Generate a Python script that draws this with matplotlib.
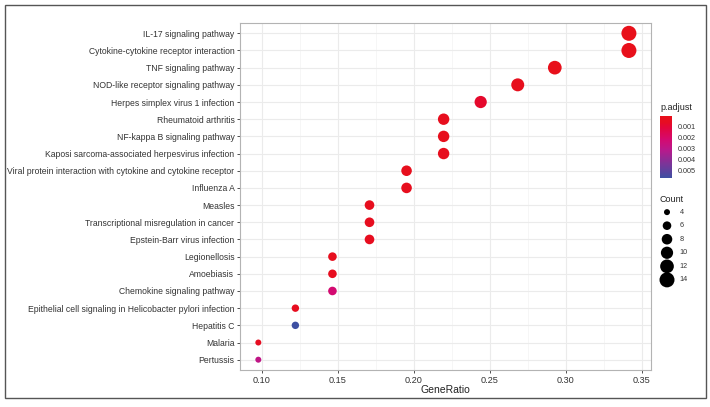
import matplotlib.pyplot as plt
import numpy as np
from matplotlib.colors import LinearSegmentedColormap
from matplotlib.patches import Rectangle

plt.rcParams['font.family'] = ['Liberation Sans', 'DejaVu Sans']

# KEGG enrichment results (top row first)
pathways = [
    "IL-17 signaling pathway",
    "Cytokine-cytokine receptor interaction",
    "TNF signaling pathway",
    "NOD-like receptor signaling pathway",
    "Herpes simplex virus 1 infection",
    "Rheumatoid arthritis",
    "NF-kappa B signaling pathway",
    "Kaposi sarcoma-associated herpesvirus infection",
    "Viral protein interaction with cytokine and cytokine receptor",
    "Influenza A",
    "Measles",
    "Transcriptional misregulation in cancer",
    "Epstein-Barr virus infection",
    "Legionellosis",
    "Amoebiasis",
    "Chemokine signaling pathway",
    "Epithelial cell signaling in Helicobacter pylori infection",
    "Hepatitis C",
    "Malaria",
    "Pertussis",
]
counts = [14, 14, 12, 11, 10, 9, 9, 9, 8, 8, 7, 7, 7, 6, 6, 6, 5, 5, 4, 4]
total = 41
p_adjust = [0.00002, 0.00005, 0.00008, 0.0002, 0.0008, 0.0003, 0.0002, 0.0003, 0.0002, 0.0003,
            0.0003, 0.0004, 0.0004, 0.0003, 0.0004, 0.0022, 0.0004, 0.0057, 0.0005, 0.0029]
legend_counts = [4, 6, 8, 10, 12, 14]
cbar_ticks = [0.001, 0.002, 0.003, 0.004, 0.005]

gene_ratio = np.array(counts) / total

cmap = LinearSegmentedColormap.from_list(
    "padj", [(0.0, "#E8101A"), (0.1, "#E60C22"), (0.18, "#E3063A"), (0.38, "#D40A70"),
             (0.55, "#B8198C"), (0.78, "#7A3599"), (1.0, "#3E50A2")])
vmin, vmax = 0.0, 0.0057


def dot_size(c):
    return np.maximum(9.8 * np.asarray(c) - 20.5, 4)


fig = plt.figure(figsize=(7.1, 4.07), dpi=100)
fig.patches.append(Rectangle((5 / 710, 9 / 407), 701 / 710, 393 / 407, transform=fig.transFigure,
                             fill=False, edgecolor="#555555", linewidth=1.0))

ax = fig.add_axes([240 / 710, 37 / 407, 411 / 710, 347 / 407])
y = np.arange(len(pathways))
sc = ax.scatter(gene_ratio, y, s=dot_size(counts), c=p_adjust, cmap=cmap, vmin=vmin, vmax=vmax,
                edgecolors="none", zorder=3)
ax.set_ylim(len(pathways) - 0.4, -0.6)
ax.set_xlim(0.0855, 0.356)
ax.set_yticks(y)
ax.set_yticklabels(pathways)
ax.set_xticks([0.10, 0.15, 0.20, 0.25, 0.30, 0.35])
ax.set_xticklabels(["0.10", "0.15", "0.20", "0.25", "0.30", "0.35"])
ax.set_xticks([0.125, 0.175, 0.225, 0.275, 0.325], minor=True)
ax.grid(True, which="major", color="#EBEBEB", linewidth=0.8, zorder=0)
ax.grid(True, which="minor", axis="x", color="#F3F3F3", linewidth=0.5, zorder=0)
ax.set_axisbelow(True)
ax.tick_params(axis="y", which="major", labelsize=6.2, labelcolor="#333333", color="#333333",
               length=2.5, width=0.6, pad=1.5)
ax.tick_params(axis="x", which="major", labelsize=6.6, labelcolor="#333333", color="#333333",
               length=2.5, width=0.6, pad=1.5)
ax.tick_params(axis="both", which="minor", length=0)
for s in ax.spines.values():
    s.set_color("#B3B3B3")
    s.set_linewidth(0.8)
ax.set_xlabel("GeneRatio", fontsize=7.5, color="#222222", labelpad=0)

# colour bar legend
cax = fig.add_axes([660 / 710, 229 / 407, 12 / 710, 62 / 407])
cb = fig.colorbar(sc, cax=cax)
cb.set_ticks(cbar_ticks)
cb.set_ticklabels(["0.001", "0.002", "0.003", "0.004", "0.005"])
cb.ax.invert_yaxis()
cb.outline.set_visible(False)
cb.ax.tick_params(labelsize=5.2, labelcolor="#333333", length=2, width=0.5, color="white", pad=2)
fig.text(660 / 710, 1 - 108 / 407, "p.adjust", fontsize=6.5, color="#222222", va="center")

# size legend
fig.text(660 / 710, 1 - 199 / 407, "Count", fontsize=6.5, color="#222222", va="center")
lax = fig.add_axes([656 / 710, 1 - 288 / 407, 22 / 710, 84 / 407])
ly = np.arange(len(legend_counts))
lax.scatter(np.zeros(len(legend_counts)), ly, s=dot_size(legend_counts), c="black", edgecolors="none")
lax.set_xlim(-1, 1)
lax.set_ylim(len(legend_counts) - 0.4, -0.6)
lax.axis("off")
for yy, c in zip(ly, legend_counts):
    lax.text(1.15, yy, str(c), fontsize=5.2, color="#333333", va="center",
             transform=lax.transData, clip_on=False)

fig.savefig("out.png", dpi=100)
